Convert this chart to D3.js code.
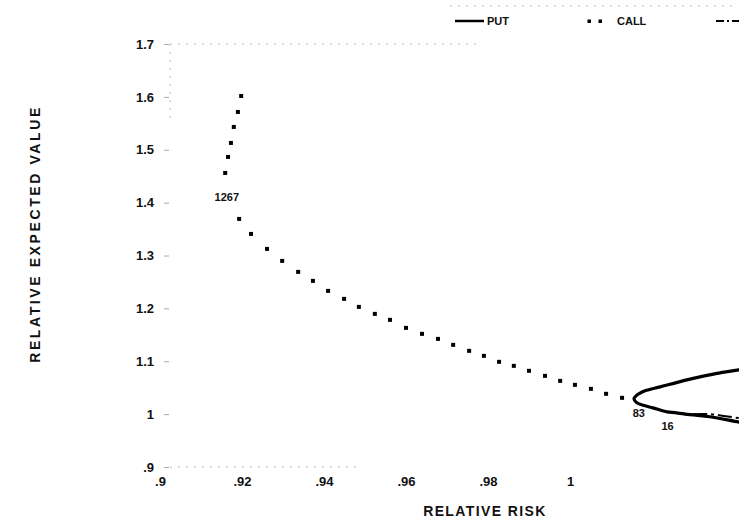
<!DOCTYPE html>
<html>
<head>
<meta charset="utf-8">
<script src="https://cdn.jsdelivr.net/npm/d3@7"></script>
<style>
  body { margin: 0; background: #fff; }
  text { font-family: "Liberation Sans", Arial, sans-serif; font-weight: bold; fill: #111; }
</style>
</head>
<body>
<script>
//Width and height
var w = 739;
var h = 528;

//Tick values
var xTicks = [0.9, 0.92, 0.94, 0.96, 0.98, 1.0];
var xTickLabels = [".9", ".92", ".94", ".96", ".98", "1"];
var yTicks = [0.9, 1.0, 1.1, 1.2, 1.3, 1.4, 1.5, 1.6, 1.7];
var yTickLabels = [".9", "1", "1.1", "1.2", "1.3", "1.4", "1.5", "1.6", "1.7"];

//CALL series (dots), risk / expected value
var callRisk = [0.9198, 0.9190, 0.9180, 0.9173, 0.9166, 0.9159, 0.9193, 0.9222, 0.9261, 0.9298,
    0.9337, 0.9373, 0.9410, 0.9449, 0.9485, 0.9524, 0.9561, 0.9600, 0.9639, 0.9678, 0.9715,
    0.9754, 0.9790, 0.9827, 0.9863, 0.9900, 0.9939, 0.9976, 1.0012, 1.0051, 1.0088, 1.0127];
var callValue = [1.6017, 1.5715, 1.5431, 1.5129, 1.4864, 1.4561, 1.3692, 1.3408, 1.3125, 1.2898,
    1.2690, 1.2520, 1.2331, 1.2180, 1.2028, 1.1896, 1.1783, 1.1631, 1.1518, 1.1423, 1.1310,
    1.1197, 1.1102, 1.0989, 1.0913, 1.0819, 1.0724, 1.0629, 1.0554, 1.0478, 1.0384, 1.0308];

//PUT series (solid line)
var putRisk = [1.0450, 1.0412, 1.0366, 1.0317, 1.0285, 1.0220, 1.0183, 1.0161, 1.0156, 1.0163,
    1.0183, 1.0202, 1.0237, 1.0256, 1.0293, 1.0341, 1.0412, 1.0450];
var putValue = [1.0890, 1.0837, 1.0781, 1.0705, 1.0648, 1.0516, 1.0440, 1.0346, 1.0289, 1.0214,
    1.0157, 1.0119, 1.0043, 1.0030, 0.9990, 0.9950, 0.9850, 0.9800];

//third series (dash-dot), only its start is visible
var thirdRisk = [1.0300, 1.0340, 1.0380, 1.0450];
var thirdValue = [1.0000, 1.0000, 0.9960, 0.9880];

//point labels
var labelText = ["1267", "83", "16"];
var labelRisk = [0.9163, 1.0168, 1.0238];
var labelValue = [1.4030, 0.9950, 0.9700];

//Legend entries
var legendNames = ["PUT", "CALL", ""];

//Create SVG element
var svg = d3.select("body")
    .append("svg")
    .attr("width", w)
    .attr("height", h)
    .style("overflow", "hidden");

var x = d3.scaleLinear().domain([0.9, 1.0]).range([160, 570]);
var y = d3.scaleLinear().domain([0.9, 1.7]).range([467, 44]);

//faint frame lines (dotted, as in the scan)
var frame = svg.append("g")
    .attr("stroke", "#bbb")
    .attr("stroke-width", 1)
    .attr("stroke-dasharray", "2,6");
frame.append("line").attr("x1", 170).attr("x2", 480).attr("y1", y(1.7)).attr("y2", y(1.7));
frame.append("line").attr("x1", 170).attr("x2", 360).attr("y1", y(0.9)).attr("y2", y(0.9));
frame.append("line").attr("x1", 170).attr("x2", 170).attr("y1", y(1.7)).attr("y2", y(1.55));
frame.append("line").attr("x1", 450).attr("x2", 735).attr("y1", 6).attr("y2", 6);

//Y axis
var yAxis = d3.axisLeft(y)
    .tickValues(yTicks)
    .tickFormat(function (d, i) { return yTickLabels[i]; })
    .tickSize(5)
    .tickPadding(10);
var gy = svg.append("g")
    .attr("transform", "translate(169,0)")
    .call(yAxis);
gy.select(".domain").remove();
gy.selectAll(".tick line").attr("stroke", "#aaa");
gy.selectAll(".tick text")
    .style("font-size", "13px")
    .style("font-family", "Liberation Sans, Arial, sans-serif")
    .style("font-weight", "bold")
    .attr("fill", "#111");

//X axis
var xAxis = d3.axisBottom(x)
    .tickValues(xTicks)
    .tickFormat(function (d, i) { return xTickLabels[i]; })
    .tickSize(0)
    .tickPadding(10);
var gx = svg.append("g")
    .attr("transform", "translate(0," + 467 + ")")
    .call(xAxis);
gx.select(".domain").remove();
gx.selectAll(".tick text")
    .style("font-size", "13px")
    .style("font-family", "Liberation Sans, Arial, sans-serif")
    .style("font-weight", "bold")
    .attr("fill", "#111");

//Axis titles
svg.append("text")
    .attr("x", 485)
    .attr("y", 516)
    .attr("text-anchor", "middle")
    .style("font-size", "14px")
    .style("letter-spacing", "1.4px")
    .text("RELATIVE RISK");

svg.append("text")
    .attr("transform", "translate(40,234) rotate(-90)")
    .attr("text-anchor", "middle")
    .style("font-size", "14px")
    .style("letter-spacing", "2.6px")
    .text("RELATIVE EXPECTED VALUE");

//PUT line
var putData = putRisk.map(function (d, i) { return [d, putValue[i]]; });
var line = d3.line()
    .x(function (d) { return x(d[0]); })
    .y(function (d) { return y(d[1]); })
    .curve(d3.curveCatmullRom);

svg.append("path")
    .datum(putData)
    .attr("d", line)
    .attr("fill", "none")
    .attr("stroke", "#000")
    .attr("stroke-width", 3.2);

//third series
var thirdData = thirdRisk.map(function (d, i) { return [d, thirdValue[i]]; });
svg.append("path")
    .datum(thirdData)
    .attr("d", line)
    .attr("fill", "none")
    .attr("stroke", "#000")
    .attr("stroke-width", 2)
    .attr("stroke-dasharray", "14,4,3,4");

//CALL dots
svg.append("g")
    .selectAll("rect")
    .data(callRisk)
    .enter()
    .append("rect")
    .attr("x", function (d) { return x(d) - 2; })
    .attr("y", function (d, i) { return y(callValue[i]) - 2; })
    .attr("width", 4)
    .attr("height", 4)
    .attr("fill", "#000");

//point labels
svg.append("g")
    .selectAll("text")
    .data(labelText)
    .enter()
    .append("text")
    .attr("x", function (d, i) { return x(labelRisk[i]); })
    .attr("y", function (d, i) { return y(labelValue[i]); })
    .attr("text-anchor", "middle")
    .style("font-size", "11px")
    .text(function (d) { return d; });

//Legend
var legend = svg.append("g").attr("transform", "translate(0,21)");
legend.append("line")
    .attr("x1", 455).attr("x2", 484).attr("y1", 0).attr("y2", 0)
    .attr("stroke", "#000").attr("stroke-width", 2.5);
legend.append("text")
    .attr("x", 487).attr("y", 4)
    .style("font-size", "11px")
    .text(legendNames[0]);
legend.selectAll("rect")
    .data([589, 600])
    .enter()
    .append("rect")
    .attr("x", function (d) { return d - 1.5; })
    .attr("y", -1.5)
    .attr("width", 3.5)
    .attr("height", 3.5)
    .attr("fill", "#000");
legend.append("text")
    .attr("x", 617).attr("y", 4)
    .style("font-size", "11px")
    .text(legendNames[1]);
legend.append("line")
    .attr("x1", 716).attr("x2", 745).attr("y1", 0).attr("y2", 0)
    .attr("stroke", "#000").attr("stroke-width", 2)
    .attr("stroke-dasharray", "8,3,2,3");
</script>
</body>
</html>
